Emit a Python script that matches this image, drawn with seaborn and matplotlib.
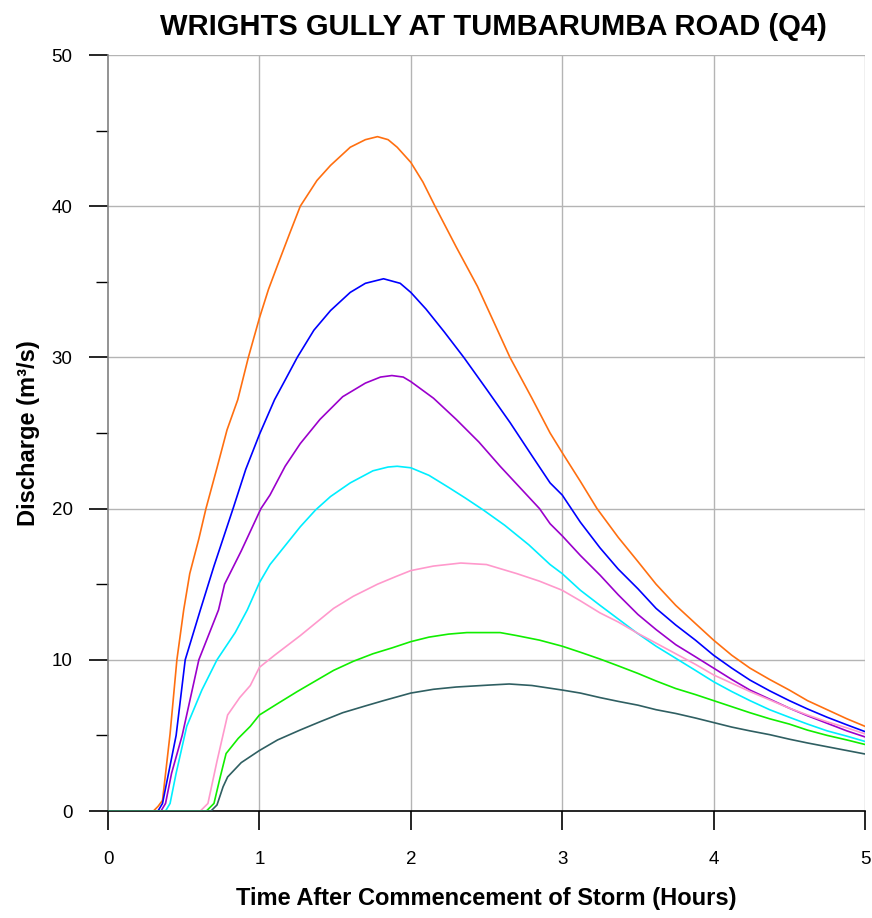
import numpy as np
import pandas as pd
import matplotlib
matplotlib.use("Agg")
import matplotlib.pyplot as plt
import seaborn as sns

# Hydrograph data (time in hours, discharge in m3/s)
t_orange = [0, 0.30, 0.33, 0.36, 0.41, 0.455, 0.50, 0.54, 0.60, 0.647, 0.72, 0.786, 0.857, 0.927, 1.00, 1.06, 1.12, 1.20, 1.27, 1.38, 1.47, 1.60, 1.70, 1.78, 1.85, 1.91, 2.00, 2.08, 2.16, 2.30, 2.44, 2.55, 2.655, 2.80, 2.92, 3.00, 3.12, 3.23, 3.37, 3.50, 3.62, 3.75, 3.88, 4.00, 4.12, 4.24, 4.37, 4.50, 4.62, 4.75, 4.88, 5.00]
q_orange = [0, 0, 0.3, 0.7, 5.1, 10.0, 13.3, 15.7, 18.0, 20.0, 22.7, 25.2, 27.2, 30.0, 32.6, 34.5, 36.1, 38.2, 40.0, 41.7, 42.7, 43.9, 44.4, 44.6, 44.4, 43.9, 42.9, 41.6, 40.0, 37.3, 34.7, 32.3, 30.0, 27.3, 25.0, 23.7, 21.8, 20.0, 18.1, 16.5, 15.0, 13.6, 12.4, 11.3, 10.3, 9.45, 8.7, 8.0, 7.3, 6.7, 6.1, 5.6]

t_blue = [0, 0.33, 0.36, 0.40, 0.45, 0.51, 0.61, 0.70, 0.826, 0.91, 1.00, 1.10, 1.17, 1.25, 1.36, 1.47, 1.60, 1.70, 1.82, 1.93, 2.00, 2.10, 2.22, 2.35, 2.50, 2.655, 2.80, 2.92, 3.00, 3.12, 3.25, 3.37, 3.50, 3.62, 3.75, 3.88, 4.00, 4.12, 4.24, 4.37, 4.50, 4.62, 4.75, 4.88, 5.00]
q_blue = [0, 0, 0.5, 2.5, 5.0, 10.0, 13.3, 16.2, 20.0, 22.6, 24.9, 27.2, 28.5, 30.0, 31.8, 33.1, 34.3, 34.9, 35.2, 34.9, 34.3, 33.2, 31.7, 30.0, 27.9, 25.7, 23.5, 21.7, 20.9, 19.1, 17.4, 16.0, 14.7, 13.4, 12.3, 11.3, 10.3, 9.45, 8.66, 7.95, 7.3, 6.75, 6.2, 5.7, 5.25]

t_purple = [0, 0.35, 0.38, 0.42, 0.49, 0.60, 0.73, 0.77, 0.88, 1.01, 1.07, 1.17, 1.27, 1.40, 1.55, 1.70, 1.80, 1.875, 1.95, 2.00, 2.15, 2.30, 2.45, 2.59, 2.72, 2.85, 2.92, 3.00, 3.12, 3.25, 3.37, 3.50, 3.62, 3.75, 3.88, 4.00, 4.12, 4.24, 4.37, 4.50, 4.62, 4.75, 4.88, 5.00]
q_purple = [0, 0, 0.5, 2.5, 5.0, 10.0, 13.3, 15.0, 17.2, 20.0, 20.9, 22.8, 24.3, 25.9, 27.4, 28.3, 28.7, 28.8, 28.7, 28.4, 27.3, 25.9, 24.4, 22.8, 21.4, 20.0, 19.0, 18.2, 16.9, 15.6, 14.3, 13.0, 12.0, 11.0, 10.2, 9.45, 8.7, 8.0, 7.4, 6.8, 6.3, 5.8, 5.3, 4.9]

t_cyan = [0, 0.38, 0.41, 0.45, 0.52, 0.62, 0.72, 0.84, 0.92, 1.00, 1.07, 1.15, 1.27, 1.37, 1.47, 1.60, 1.75, 1.85, 1.91, 2.00, 2.12, 2.25, 2.36, 2.48, 2.62, 2.78, 2.92, 3.00, 3.12, 3.25, 3.37, 3.49, 3.62, 3.75, 3.88, 4.00, 4.12, 4.24, 4.37, 4.50, 4.62, 4.75, 4.88, 5.00]
q_cyan = [0, 0, 0.5, 2.5, 5.6, 8.0, 10.0, 11.8, 13.3, 15.1, 16.3, 17.3, 18.8, 19.9, 20.8, 21.7, 22.5, 22.75, 22.8, 22.7, 22.2, 21.4, 20.7, 19.9, 18.9, 17.6, 16.3, 15.7, 14.6, 13.6, 12.7, 11.8, 10.9, 10.1, 9.3, 8.55, 7.9, 7.3, 6.7, 6.2, 5.75, 5.3, 4.95, 4.6]

t_pink = [0, 0.61, 0.66, 0.72, 0.79, 0.87, 0.94, 1.00, 1.10, 1.27, 1.38, 1.49, 1.62, 1.78, 1.90, 2.00, 2.15, 2.33, 2.50, 2.60, 2.70, 2.85, 3.00, 3.12, 3.25, 3.37, 3.49, 3.62, 3.75, 3.88, 4.00, 4.12, 4.24, 4.37, 4.50, 4.62, 4.75, 4.88, 5.00]
q_pink = [0, 0, 0.5, 3.3, 6.35, 7.5, 8.3, 9.5, 10.3, 11.6, 12.5, 13.4, 14.2, 15.0, 15.5, 15.9, 16.2, 16.4, 16.3, 16.0, 15.7, 15.2, 14.6, 13.9, 13.1, 12.5, 11.8, 11.1, 10.4, 9.7, 9.0, 8.45, 7.9, 7.35, 6.8, 6.35, 5.9, 5.5, 5.1]

t_green = [0, 0.65, 0.70, 0.74, 0.78, 0.86, 0.94, 1.00, 1.12, 1.25, 1.37, 1.49, 1.62, 1.75, 1.88, 2.00, 2.12, 2.25, 2.37, 2.48, 2.59, 2.70, 2.85, 3.00, 3.12, 3.25, 3.37, 3.50, 3.62, 3.75, 3.88, 4.00, 4.12, 4.24, 4.37, 4.50, 4.62, 4.75, 4.88, 5.00]
q_green = [0, 0, 0.5, 2.2, 3.8, 4.8, 5.6, 6.35, 7.1, 7.9, 8.6, 9.3, 9.9, 10.4, 10.8, 11.2, 11.5, 11.7, 11.8, 11.8, 11.8, 11.6, 11.3, 10.9, 10.5, 10.05, 9.6, 9.1, 8.6, 8.1, 7.7, 7.3, 6.9, 6.5, 6.1, 5.75, 5.35, 5.0, 4.7, 4.4]

t_slate = [0, 0.68, 0.72, 0.76, 0.79, 0.88, 1.00, 1.12, 1.27, 1.40, 1.55, 1.70, 1.82, 2.00, 2.15, 2.30, 2.52, 2.65, 2.80, 3.00, 3.12, 3.25, 3.37, 3.50, 3.62, 3.75, 3.88, 4.00, 4.12, 4.24, 4.37, 4.50, 4.62, 4.75, 4.88, 5.00]
q_slate = [0, 0, 0.4, 1.6, 2.25, 3.2, 4.0, 4.7, 5.36, 5.9, 6.5, 6.95, 7.3, 7.8, 8.05, 8.2, 8.33, 8.4, 8.3, 8.0, 7.8, 7.5, 7.25, 7.0, 6.7, 6.45, 6.15, 5.85, 5.55, 5.3, 5.05, 4.75, 4.5, 4.25, 4.0, 3.77]

series = [
    ("orange", t_orange, q_orange, "#ff6f10"),
    ("blue", t_blue, q_blue, "#0000ff"),
    ("purple", t_purple, q_purple, "#9b00cc"),
    ("cyan", t_cyan, q_cyan, "#00eeff"),
    ("pink", t_pink, q_pink, "#ff99cc"),
    ("green", t_green, q_green, "#11ee00"),
    ("slate", t_slate, q_slate, "#2f5f62"),
]

frames = []
for name, t, q, c in series:
    frames.append(pd.DataFrame({"time": t, "discharge": q, "series": name}))
df = pd.concat(frames, ignore_index=True)
palette = {name: c for name, t, q, c in series}

sns.set_theme(style="white")
plt.rcParams['font.family'] = ['Liberation Sans', 'DejaVu Sans']
plt.rcParams['text.color'] = 'black'
plt.rcParams['axes.labelcolor'] = 'black'

fig = plt.figure(figsize=(8.72, 9.18), dpi=100)
ax = fig.add_axes([108/872, 107/918, (865-108)/872, (811-55)/918])

ax.set_xlim(0, 5)
ax.set_ylim(0, 50)
ax.set_xticks([0, 1, 2, 3, 4, 5])
ax.set_yticks([0, 10, 20, 30, 40, 50])
ax.set_yticks([5, 15, 25, 35, 45], minor=True)

# grid
for xv in [1, 2, 3, 4, 5]:
    ax.axvline(xv, color="#b4b4b4", lw=1.0, zorder=0)
for yv in [10, 20, 30, 40, 50]:
    ax.axhline(yv, color="#b4b4b4", lw=1.0, zorder=0)

sns.lineplot(data=df, x="time", y="discharge", hue="series", palette=palette,
             estimator=None, sort=False, legend=False, lw=1.2, ax=ax, zorder=3)

for s in ["top", "right"]:
    ax.spines[s].set_visible(False)
ax.spines["left"].set_color("#808080")
ax.spines["left"].set_linewidth(1.2)
ax.spines["bottom"].set_color("black")
ax.spines["bottom"].set_linewidth(1.2)

ax.tick_params(axis="both", which="major", direction="out", length=13.5, width=1.2,
               color="black", labelsize=13.5, labelcolor="black")
ax.tick_params(axis="y", which="major", pad=12)
ax.tick_params(axis="y", which="minor", direction="out", length=8.5, width=1.0, color="black")
ax.tick_params(axis="y", which="both", left=True)
ax.tick_params(axis="x", which="both", bottom=True)
ax.tick_params(axis="x", which="major", pad=15)

ax.set_xlabel("Time After Commencement of Storm (Hours)", fontsize=17, fontweight="bold", labelpad=14)
ax.set_ylabel("Discharge (m\u00b3/s)", fontsize=17, fontweight="bold", labelpad=8)
fig.text(493/872, 1 - 27/918, "WRIGHTS GULLY AT TUMBARUMBA ROAD (Q4)", ha="center", va="center",
         fontsize=21, fontweight="bold")

fig.savefig("out.png", dpi=100)
